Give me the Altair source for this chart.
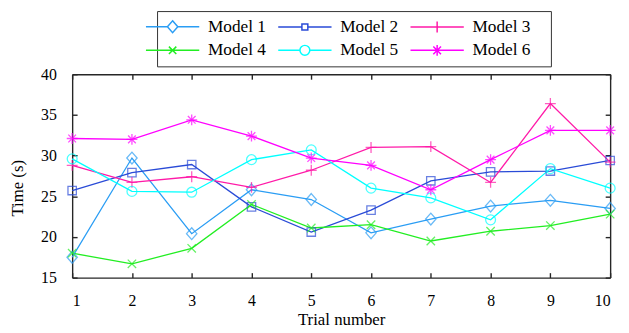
import altair as alt
import pandas as pd

trials = [1, 2, 3, 4, 5, 6, 7, 8, 9, 10]
models = ["Model 1", "Model 2", "Model 3", "Model 4", "Model 5", "Model 6"]
model1 = [17.5, 29.7, 20.4, 25.8, 24.6, 20.5, 22.2, 23.8, 24.5, 23.5]
model2 = [25.7, 27.9, 28.9, 23.7, 20.6, 23.3, 26.9, 28.0, 28.1, 29.4]
model3 = [28.8, 26.7, 27.4, 26.1, 28.2, 31.0, 31.1, 26.7, 36.4, 29.2]
model4 = [18.0, 16.7, 18.6, 24.0, 21.1, 21.5, 19.5, 20.7, 21.4, 22.8]
model5 = [29.6, 25.6, 25.5, 29.5, 30.7, 26.0, 24.8, 22.1, 28.4, 26.0]
model6 = [32.1, 32.0, 34.4, 32.4, 29.7, 28.8, 25.8, 29.5, 33.1, 33.1]
y_ticks = [15, 20, 25, 30, 35, 40]
colors = ["#2a9df4", "#2a4bd7", "#ff1aa8", "#22ee22", "#00ffff", "#ff00ff"]

series = [model1, model2, model3, model4, model5, model6]
rows = []
for m, vals in zip(models, series):
    for t, v in zip(trials, vals):
        rows.append({"Trial": t, "Time": v, "Model": m})
df = pd.DataFrame(rows)

# marker shapes (unit space, scaled by sqrt(size)/2)
marker_paths = [
    "M0,-1.2L1.05,0L0,1.2L-1.05,0Z",
    "M-0.85,-0.85H0.85V0.85H-0.85Z",
    "M-1.1,0H1.1M0,-1.1V1.1",
    "M-0.85,-0.85L0.85,0.85M-0.85,0.85L0.85,-0.85",
    "M1,0A1,1 0 1,1 -1,0A1,1 0 1,1 1,0Z",
    "M-1.1,0H1.1M0,-1.1V1.1M-0.78,-0.78L0.78,0.78M-0.78,0.78L0.78,-0.78",
]
# legend symbols: line segment + marker; leading/trailing moves only pad the entry
L = "5.4"
pad = "M-8,0M21,0"
legend_paths = [
    f"{pad}M-{L},0H-1.05M1.05,0H{L}M0,-1.2L1.05,0L0,1.2L-1.05,0Z",
    f"{pad}M-{L},0H-0.6M0.6,0H{L}M-0.6,-0.6H0.6V0.6H-0.6Z",
    f"{pad}M-{L},0H{L}M0,-1.1V1.1",
    f"{pad}M-{L},0H{L}M-0.75,-0.75L0.75,0.75M-0.75,0.75L0.75,-0.75",
    f"{pad}M-{L},0H-1M1,0H{L}M1,0A1,1 0 1,1 -1,0A1,1 0 1,1 1,0Z",
    f"{pad}M-{L},0H{L}M0,-1.1V1.1M-0.78,-0.78L0.78,0.78M-0.78,0.78L0.78,-0.78",
]

W, H = 545, 206
FONT = "Liberation Serif"

x_scale = alt.Scale(domain=[1, 10], nice=False, zero=False)
y_scale = alt.Scale(domain=[15, 40], nice=False, zero=False)
color_scale = alt.Scale(domain=models, range=colors)

base = alt.Chart(df)

lines = base.mark_line(strokeWidth=1.3).encode(
    x=alt.X("Trial:Q", scale=x_scale,
            axis=alt.Axis(orient="top", offset=-H, values=trials, tickSize=5,
                          labelPadding=-33, labelBaseline="alphabetic",
                          title="Trial number", titleX=W / 2, titleY=48,
                          titleAlign="center", titleBaseline="alphabetic")),
    y=alt.Y("Time:Q", scale=y_scale,
            axis=alt.Axis(orient="right", offset=-W, values=y_ticks, tickSize=5,
                          labelPadding=-21, labelAlign="right", labelBaseline="middle",
                          title="Time (s)", titleX=-55, titleY=H / 2 + 12,
                          titleAngle=270, titleAlign="center", titleBaseline="middle")),
    color=alt.Color("Model:N", scale=color_scale, legend=None),
)

points = base.mark_point(filled=False, strokeWidth=1.3, size=100).encode(
    x=alt.X("Trial:Q", scale=x_scale,
            axis=alt.Axis(orient="bottom", offset=-H, values=trials, tickSize=5,
                          labels=False, title=None)),
    y=alt.Y("Time:Q", scale=y_scale,
            axis=alt.Axis(orient="left", offset=-W, values=y_ticks, tickSize=5,
                          labels=False, title=None)),
    color=alt.Color("Model:N", scale=color_scale, legend=None),
    shape=alt.Shape("Model:N", scale=alt.Scale(domain=models, range=marker_paths), legend=None),
)

leg = alt.Legend(title=None, orient="none", legendX=86, legendY=-64, columns=3,
                 direction="horizontal",
                 labelFont=FONT, labelFontSize=17.5, labelColor="black",
                 symbolSize=100, symbolStrokeWidth=1.5, strokeColor="#333333",
                 fillColor="white", padding=7, labelOffset=27,
                 columnPadding=-18, rowPadding=5, labelLimit=0, symbolOpacity=1)

legend_layer = base.mark_point(filled=False, strokeWidth=1.5, size=100).encode(
    x=alt.X("Trial:Q", scale=x_scale, axis=None),
    y=alt.Y("Time:Q", scale=y_scale, axis=None),
    color=alt.Color("Model:N", scale=color_scale, legend=leg),
    shape=alt.Shape("Model:N", scale=alt.Scale(domain=models, range=legend_paths), legend=leg),
).transform_filter("datum.Time < 0")

chart = alt.layer(lines, points, legend_layer).resolve_scale(
    color="independent", shape="independent"
).properties(
    width=W, height=H,
    autosize=alt.AutoSizeParams(type="none"),
    padding={"left": 65, "top": 65, "right": 11, "bottom": 54},
).configure_view(stroke=None).configure_axis(
    grid=False, labelFont=FONT, labelFontSize=16, labelColor="black",
    titleFont=FONT, titleFontSize=17, titleFontWeight="normal", titleColor="black",
    domainColor="#262626", domainWidth=1.4, tickColor="#262626", tickWidth=1.4,
)

chart.save("out.html", embed_options={"renderer": "svg", "actions": False})
